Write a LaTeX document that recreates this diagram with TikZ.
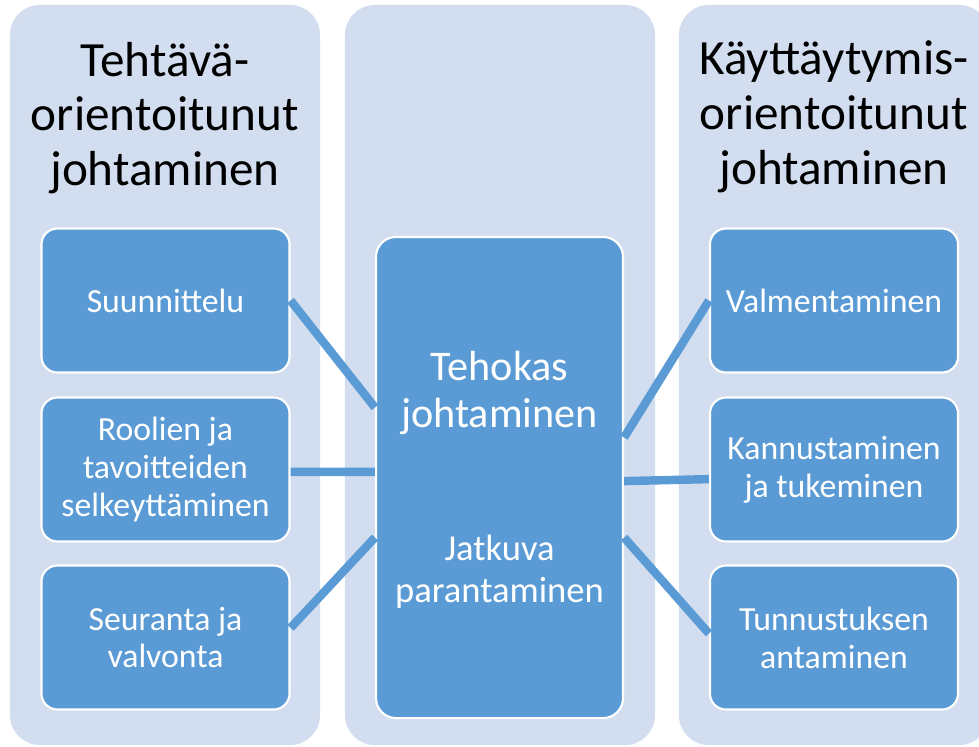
\documentclass[tikz,border=0pt]{standalone}
\usepackage{fontspec}
\setmainfont{Carlito}
\definecolor{panelblue}{RGB}{210,222,239}
\definecolor{boxblue}{RGB}{91,155,213}
\begin{document}
\begin{tikzpicture}[x=0.025cm,y=-0.025cm,
    panel/.style={fill=panelblue,rounded corners=0.75cm,minimum width=7.75cm,minimum height=18.5cm,inner sep=0pt},
    title/.style={align=center,inner sep=0pt,font=\fontsize{35}{39}\selectfont},
    box/.style={fill=boxblue,draw=white,line width=1.5pt,rounded corners=0.4cm,minimum width=6.2cm,minimum height=3.6cm,inner sep=0pt,align=center,text=white,font=\fontsize{24}{27}\selectfont},
    link/.style={draw=boxblue,line width=6pt}]
  \useasboundingbox (0,0) rectangle (979,746);
  \clip (0,0) rectangle (979,746);
  \node[panel] (lpanel) at (165,375) {};
  \node[panel] (mpanel) at (500,375) {};
  \node[panel] (rpanel) at (834,375) {};
  \node[title] (ltitle) at (165,118) {Tehtävä-\\orientoitunut\\johtaminen};
  \node[title] (rtitle) at (834,117) {Käyttäytymis-\\orientoitunut\\johtaminen};
  \node[box] (s1) at (165.5,300.5) {Suunnittelu};
  \node[box] (s2) at (165.5,469.5) {Roolien ja\\tavoitteiden\\selkeyttäminen};
  \node[box] (s3) at (165.5,637.5) {Seuranta ja\\valvonta};
  \node[box] (v1) at (834,300.5) {Valmentaminen};
  \node[box] (v2) at (834,469.5) {Kannustaminen\\ja tukeminen};
  \node[box] (v3) at (834,637.5) {Tunnustuksen\\antaminen};
  \node[box,minimum width=6.175cm,minimum height=12.025cm,rounded corners=0.5cm] (core) at (499.5,477.5) {};
  \node[text=white,align=center,inner sep=0pt,font=\fontsize{30}{33}\selectfont] (aim) at (499.5,393) {Tehokas\\johtaminen};
  \node[text=white,align=center,inner sep=0pt,font=\fontsize{26}{30}\selectfont] (means) at (499.5,572) {Jatkuva\\parantaminen};
  \draw[link] (s1.east) -- ([yshift=1.75cm]core.west);
  \draw[link] ([yshift=-0.06cm]s2.east) -- ([yshift=0.14cm]core.west);
  \draw[link] ([yshift=0.24cm]s3.east) -- ([yshift=-1.5cm]core.west);
  \draw[link] ([yshift=1cm]core.east) -- (v1.west);
  \draw[link] ([yshift=-0.09cm]core.east) -- ([yshift=-0.24cm]v2.west);
  \draw[link] ([yshift=-1.5cm]core.east) -- ([yshift=0.1cm]v3.west);
\end{tikzpicture}
\end{document}
